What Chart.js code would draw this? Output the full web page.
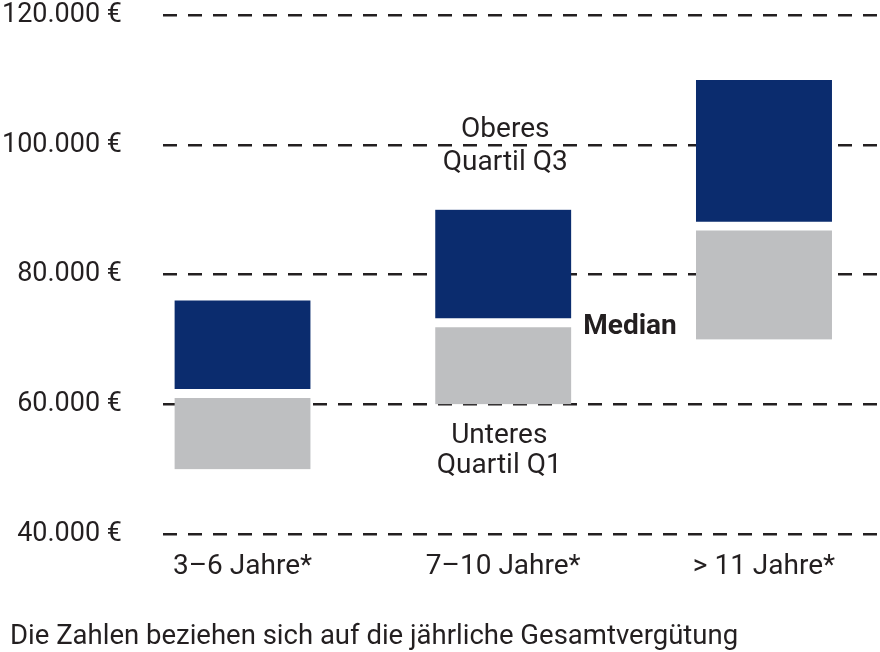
<!DOCTYPE html>
<html lang="de">
<head>
<meta charset="UTF-8">
<title>Gesamtvergütung nach Berufserfahrung</title>
<script src="https://cdn.jsdelivr.net/npm/chart.js"></script>
<style>
  html, body { margin: 0; padding: 0; background: #fff; overflow: hidden; }
  #wrap { position: relative; width: 880px; height: 652px; }
</style>
</head>
<body>
<div id="wrap"><canvas id="chart"></canvas></div>
<script>
  // Werte
  const categories = ['3–6 Jahre*', '7–10 Jahre*', '> 11 Jahre*'];
  const lowerQuartile = [50000, 60000, 70000];
  const median = [61700, 72600, 87500];
  const upperQuartile = [76000, 90000, 110000];
  const yTicks = [40000, 60000, 80000, 100000, 120000];
  const footnote = 'Die Zahlen beziehen sich auf die jährliche Gesamtvergütung';

  const FONT = "Roboto, 'Open Sans', sans-serif";
  const INK = '#231f20';

  function euro(v) {
    return String(v).replace(/\B(?=(\d{3})+(?!\d))/g, '.') + ' €';
  }

  // Beschriftungen am mittleren Balken und Fußnote
  const quartileLabels = {
    id: 'quartileLabels',
    afterDatasetsDraw(chart) {
      const ctx = chart.ctx;
      const y = chart.scales.y;
      const bar = chart.getDatasetMeta(1).data[1];
      const top = y.getPixelForValue(upperQuartile[1]);
      const bottom = y.getPixelForValue(lowerQuartile[1]);
      ctx.save();
      ctx.fillStyle = INK;
      ctx.textAlign = 'center';
      ctx.textBaseline = 'alphabetic';
      ctx.font = '28px ' + FONT;
      ctx.fillText('Oberes', bar.x + 2, top - 73);
      ctx.fillText('Quartil Q3', bar.x + 2, top - 40);
      ctx.fillText('Unteres', bar.x - 4, bottom + 39);
      ctx.fillText('Quartil Q1', bar.x - 4, bottom + 69);
      ctx.font = 'bold 28px ' + FONT;
      ctx.textAlign = 'left';
      ctx.fillText('Median', bar.x + bar.width / 2 + 12, y.getPixelForValue(median[1]) + 11);
      // Fußnote unten links
      ctx.font = '27.5px ' + FONT;
      ctx.fillText(footnote, 10, chart.height - 8);
      ctx.restore();
    }
  };

  window.onload = function() {
    new Chart(document.getElementById('chart'), {
      type: 'bar',
      data: {
        datasets: [
          {
            label: 'Unteres Quartil bis Median',
            data: categories.map((c, i) => ({ x: i, y: [lowerQuartile[i], median[i]] })),
            backgroundColor: '#bebfc1',
            borderColor: '#ffffff',
            borderWidth: { top: 5, right: 0, bottom: 0, left: 0 },
            borderSkipped: false,
            grouped: false,
            barThickness: 136
          },
          {
            label: 'Median bis oberes Quartil',
            data: categories.map((c, i) => ({ x: i, y: [median[i], upperQuartile[i]] })),
            backgroundColor: '#0b2c6e',
            borderColor: '#ffffff',
            borderWidth: { top: 0, right: 0, bottom: 4.5, left: 0 },
            borderSkipped: false,
            grouped: false,
            barThickness: 136
          }
        ]
      },
      options: {
        responsive: true,
        maintainAspectRatio: false,
        animation: false,
        layout: { padding: { left: 0, top: 15, right: 0, bottom: 50 } },
        plugins: {
          legend: { display: false },
          tooltip: { enabled: false }
        },
        scales: {
          x: {
            type: 'linear',
            offset: false,
            min: -0.305,
            max: 2.445,
            grid: { display: false, drawTicks: false },
            border: { display: false },
            afterBuildTicks(scale) { scale.ticks = categories.map((c, i) => ({ value: i })); },
            afterFit(scale) { scale.height = 68; },
            ticks: {
              callback: (v) => categories[v],
              color: INK,
              font: { family: FONT, size: 28 },
              padding: 16,
              maxRotation: 0,
              autoSkip: false
            }
          },
          y: {
            min: 40000,
            max: 120000,
            afterBuildTicks(scale) { scale.ticks = yTicks.map(v => ({ value: v })); },
            afterFit(scale) {
              scale.width = 163;
              scale.paddingTop = 0;
              scale.paddingBottom = 0;
            },
            grid: { color: INK, lineWidth: 2.5, drawTicks: false },
            border: { display: false, dash: [14, 11] },
            ticks: {
              callback: euro,
              color: INK,
              font: { family: FONT, size: 27, lineHeight: 1 },
              padding: 41
            }
          }
        }
      },
      plugins: [quartileLabels]
    });
  };
</script>
</body>
</html>
